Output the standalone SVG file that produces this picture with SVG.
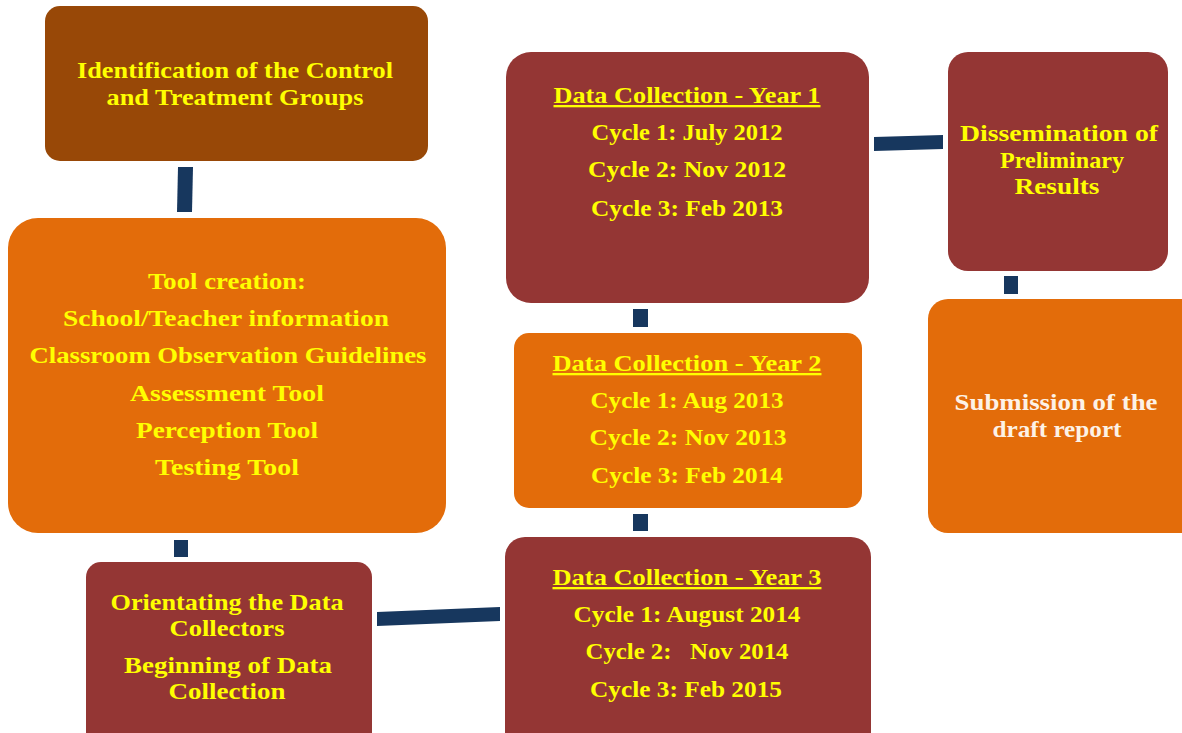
<svg xmlns="http://www.w3.org/2000/svg" width="1182" height="733" viewBox="0 0 1182 733">
  <style>
    .brown { fill: #984807; }
    .orange { fill: #E36C0A; }
    .red { fill: #943634; }
    .link { fill: #17375E; }
    text { font-family: "Liberation Serif", "Times New Roman", serif; font-weight: bold; font-size: 23px; text-anchor: middle; fill: #FFFF00; }
    text.light { fill: #FDF2E6; }
    .u { text-decoration: underline; }
  </style>
  <rect width="1182" height="733" fill="#FFFFFF"/>

  <g id="connectors">
    <polygon class="link" points="178,167 193,167 192,212 177,212"/>
    <rect class="link" x="174" y="540" width="14" height="17"/>
    <polygon class="link" points="377,612 500,607 500,621 377,626"/>
    <rect class="link" x="633" y="514" width="15" height="17"/>
    <rect class="link" x="633" y="309" width="15" height="18"/>
    <polygon class="link" points="874,137 943,135 943,149 874,151"/>
    <rect class="link" x="1004" y="276" width="14" height="18"/>
  </g>

  <g id="node-identification">
    <rect class="brown" x="45" y="6" width="383" height="155" rx="15"/>
    <text x="235" y="78" textLength="316" lengthAdjust="spacingAndGlyphs">Identification of the Control</text>
    <text x="235" y="105" textLength="257" lengthAdjust="spacingAndGlyphs">and Treatment Groups</text>
  </g>

  <g id="node-tool-creation">
    <rect class="orange" x="8" y="218" width="438" height="315" rx="30"/>
    <text x="227" y="289" textLength="158" lengthAdjust="spacingAndGlyphs">Tool creation:</text>
    <text x="226" y="326" textLength="326" lengthAdjust="spacingAndGlyphs">School/Teacher information</text>
    <text x="228" y="363" textLength="397" lengthAdjust="spacingAndGlyphs">Classroom Observation Guidelines</text>
    <text x="227" y="401" textLength="194" lengthAdjust="spacingAndGlyphs">Assessment Tool</text>
    <text x="227" y="438" textLength="182" lengthAdjust="spacingAndGlyphs">Perception Tool</text>
    <text x="227" y="475" textLength="144" lengthAdjust="spacingAndGlyphs">Testing Tool</text>
  </g>

  <g id="node-orientation">
    <rect class="red" x="86" y="562" width="286" height="190" rx="15"/>
    <text x="227" y="610" textLength="233" lengthAdjust="spacingAndGlyphs">Orientating the Data</text>
    <text x="227" y="636" textLength="115" lengthAdjust="spacingAndGlyphs">Collectors</text>
    <text x="228" y="673" textLength="208" lengthAdjust="spacingAndGlyphs">Beginning of Data</text>
    <text x="227" y="699" textLength="117" lengthAdjust="spacingAndGlyphs">Collection</text>
  </g>

  <g id="node-year3">
    <rect class="red" x="505" y="537" width="366" height="215" rx="20"/>
    <text class="u" x="687" y="585" textLength="269" lengthAdjust="spacingAndGlyphs">Data Collection - Year 3</text>
    <text x="687" y="622" textLength="227" lengthAdjust="spacingAndGlyphs">Cycle 1: August 2014</text>
    <text x="687" y="659" xml:space="preserve" textLength="203" lengthAdjust="spacingAndGlyphs">Cycle 2:   Nov 2014</text>
    <text x="686" y="697" textLength="192" lengthAdjust="spacingAndGlyphs">Cycle 3: Feb 2015</text>
  </g>

  <g id="node-year2">
    <rect class="orange" x="514" y="333" width="348" height="175" rx="15"/>
    <text class="u" x="687" y="371" textLength="269" lengthAdjust="spacingAndGlyphs">Data Collection - Year 2</text>
    <text x="687" y="408" textLength="193" lengthAdjust="spacingAndGlyphs">Cycle 1: Aug 2013</text>
    <text x="688" y="445" textLength="197" lengthAdjust="spacingAndGlyphs">Cycle 2: Nov 2013</text>
    <text x="687" y="483" textLength="192" lengthAdjust="spacingAndGlyphs">Cycle 3: Feb 2014</text>
  </g>

  <g id="node-year1">
    <rect class="red" x="506" y="52" width="363" height="251" rx="25"/>
    <text class="u" x="687" y="103" textLength="267" lengthAdjust="spacingAndGlyphs">Data Collection - Year 1</text>
    <text x="687" y="140" textLength="191" lengthAdjust="spacingAndGlyphs">Cycle 1: July 2012</text>
    <text x="687" y="177" textLength="198" lengthAdjust="spacingAndGlyphs">Cycle 2: Nov 2012</text>
    <text x="687" y="216" textLength="192" lengthAdjust="spacingAndGlyphs">Cycle 3: Feb 2013</text>
  </g>

  <g id="node-dissemination">
    <rect class="red" x="948" y="52" width="220" height="219" rx="20"/>
    <text x="1059" y="141" textLength="198" lengthAdjust="spacingAndGlyphs">Dissemination of</text>
    <text x="1062" y="168" textLength="124" lengthAdjust="spacingAndGlyphs">Preliminary</text>
    <text x="1057" y="194" textLength="85" lengthAdjust="spacingAndGlyphs">Results</text>
  </g>

  <g id="node-submission">
    <rect class="orange" x="928" y="299" width="274" height="234" rx="20"/>
    <text class="light" x="1056" y="410" textLength="203" lengthAdjust="spacingAndGlyphs">Submission of the</text>
    <text class="light" x="1057" y="437" textLength="129" lengthAdjust="spacingAndGlyphs">draft report</text>
  </g>
</svg>
